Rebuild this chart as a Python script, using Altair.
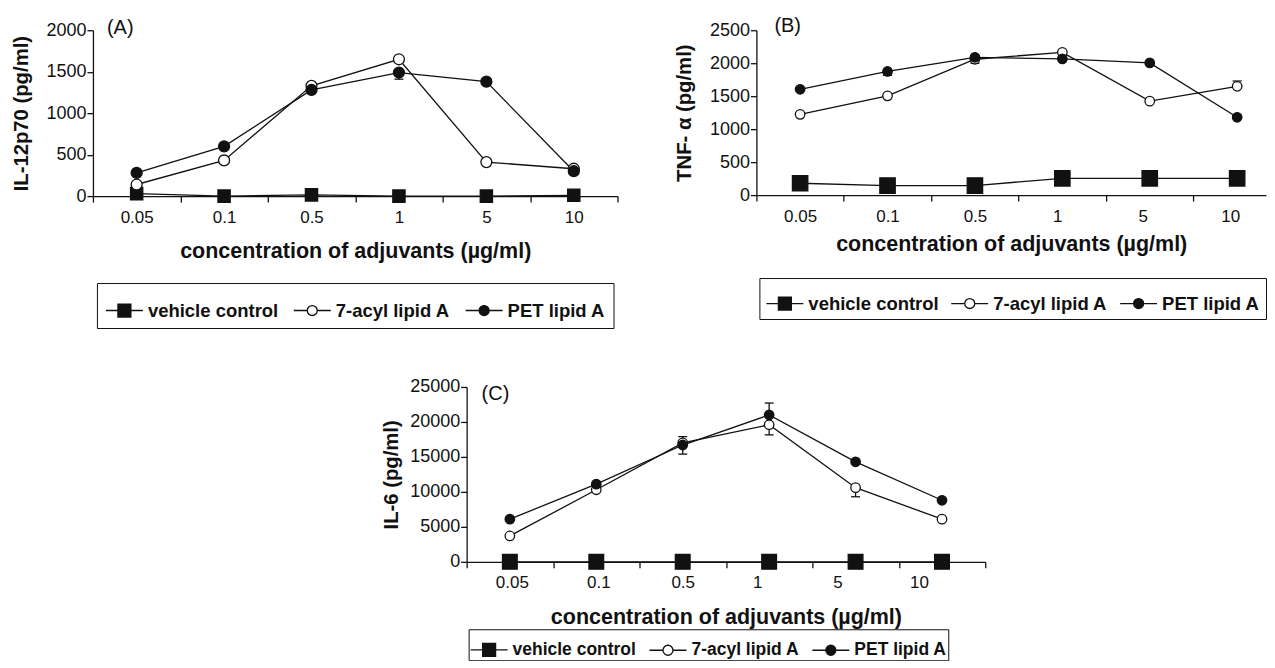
import json
import altair as alt
import pandas as pd

# ---------------- data ----------------
CONC = ["0.05", "0.1", "0.5", "1", "5", "10"]
SERIES = ["vehicle control", "7-acyl lipid A", "PET lipid A"]

# (A) IL-12p70 (pg/ml)
A_VEH = [30, 0, 15, 0, 0, 10]
A_ACYL = [140, 430, 1330, 1650, 410, 330]
A_PET = [280, 600, 1280, 1490, 1380, 300]
A_ERR_ACYL = [0, 0, 0, 0, 0, 0]
A_ERR_PET = [0, 0, 0, -80, 0, 0]

# (B) TNF-alpha (pg/ml)
B_VEH = [180, 145, 145, 255, 255, 255]
B_ACYL = [1225, 1505, 2060, 2165, 1425, 1650]
B_PET = [1605, 1875, 2090, 2065, 2005, 1180]
B_ERR_ACYL = [0, 0, -60, 0, 0, 80]
B_ERR_PET = [0, -60, 0, 0, 0, 0]

# (C) IL-6 (pg/ml)
C_VEH = [0, 0, 0, 0, 0, 0]
C_ACYL = [3700, 10300, 17000, 19600, 10600, 6100]
C_PET = [6100, 11100, 16700, 21000, 14300, 8800]
C_ERR_ACYL = [0, 0, 900, -1450, -1300, 0]
C_ERR_PET = [0, 0, -1300, 1700, 0, 0]

FONT = "Liberation Sans"
INK = "#111111"
LW = 1.3

SQ_PATH = "M-1,0H-0.35M0.35,0H1M-0.35,-0.35H0.35V0.35H-0.35Z"
CI_PATH = ("M-1,0H-0.27M0.27,0H1M0.27,0A0.27,0.27,0,1,1,-0.27,0"
           "A0.27,0.27,0,1,1,0.27,0Z")


def panel(veh, acyl, pet, err_acyl, err_pet, ytitle, ymax, ystep, letter,
          w, h, xmax, leg_x, leg_y, leg_pad, leg_font, leg_col, xt_pad,
          yt_pad, shifts, sq_size, ci_size, let_x, let_y):
    vals = dict(zip(SERIES, (veh, acyl, pet)))
    rows = []
    for s in SERIES:
        for i, v in enumerate(vals[s]):
            rows.append({"series": s, "xi": i, "value": v})
    df = pd.DataFrame(rows)
    erows = []
    for s, e in (("7-acyl lipid A", err_acyl), ("PET lipid A", err_pet)):
        for i, d in enumerate(e):
            if d:
                erows.append({"series": s, "xi": i, "value": vals[s][i],
                              "end": vals[s][i] + d})
    edf = pd.DataFrame(erows)

    bw = w / (xmax + 0.5)
    conds = [{"test": f"round(datum.value + 0.5) == {i}", "value": bw / 2 + sh}
             for i, sh in enumerate(shifts) if sh]
    label_offset = {"condition": conds, "value": bw / 2} if conds else bw / 2
    xaxis = alt.Axis(
        values=[i - 0.5 for i in range(len(CONC) + 1) if i - 0.5 <= xmax],
        labelExpr=f"datum.value > {len(CONC) - 1} ? '' : "
                  f"{json.dumps(CONC)}[round(datum.value + 0.5)]",
        labelOffset=label_offset,
        labelPadding=7,
        labelFontSize=17,
        labelOverlap=False,
        labelFlush=False,
        title="concentration of adjuvants (µg/ml)",
        titleFontSize=21.5,
        titlePadding=xt_pad,
    )
    yaxis = alt.Axis(values=list(range(0, ymax + 1, ystep)), format="d",
                     title=ytitle, titlePadding=yt_pad, labelPadding=1,
                     labelFontSize=18, titleFontSize=20.3)
    xs = alt.Scale(domain=[-0.5, xmax], nice=False, zero=False)
    ys = alt.Scale(domain=[0, ymax], nice=False)

    X = alt.X("xi:Q", scale=xs, axis=xaxis)
    base = alt.Chart(df)

    lines = base.mark_line(color=INK, strokeWidth=LW).encode(
        x=X, y=alt.Y("value:Q", scale=ys, axis=yaxis), detail="series:N")
    ebar = alt.Chart(edf).mark_rule(color=INK, strokeWidth=LW).encode(
        x=X, y=alt.Y("value:Q", scale=ys, axis=yaxis), y2="end:Q")
    ecap = alt.Chart(edf).mark_tick(color=INK, orient="horizontal", size=9,
                                    thickness=LW, opacity=1).encode(
        x=X, y=alt.Y("end:Q", scale=ys, axis=yaxis))

    def pts(series, shape, fill, size):
        return base.transform_filter(alt.datum.series == series).mark_point(
            shape=shape, filled=True, fill=fill, stroke=INK, strokeWidth=LW,
            size=size, opacity=1).encode(
            x=X, y=alt.Y("value:Q", scale=ys, axis=yaxis))

    p_veh = pts("vehicle control", "square", INK, sq_size)
    p_acyl = pts("7-acyl lipid A", "circle", "white", ci_size)
    p_pet = pts("PET lipid A", "circle", INK, ci_size)

    leg = alt.Legend(
        orient="none", legendX=leg_x, legendY=leg_y, direction="horizontal",
        title=None, strokeColor=INK, padding=leg_pad, labelFont=FONT,
        labelFontSize=leg_font, labelFontWeight="bold", labelColor=INK,
        symbolSize=1369, symbolStrokeWidth=LW,
        symbolOpacity=1, columnPadding=leg_col, labelOffset=4, labelLimit=0,
    )
    legend_layer = base.transform_filter("false").mark_point(
        filled=True, strokeWidth=LW, opacity=1).encode(
        color=alt.Color("series:N", scale=alt.Scale(domain=SERIES,
                        range=[INK, "white", INK]), legend=leg),
        stroke=alt.Stroke("series:N", scale=alt.Scale(domain=SERIES,
                          range=[INK, INK, INK]), legend=leg),
        shape=alt.Shape("series:N", scale=alt.Scale(domain=SERIES,
                        range=[SQ_PATH, CI_PATH, CI_PATH]), legend=leg),
    )

    letter_layer = alt.Chart(pd.DataFrame({"t": [letter]})).mark_text(
        align="left", baseline="middle", font=FONT, fontSize=20, color=INK
    ).encode(text="t:N", x=alt.value(let_x), y=alt.value(let_y))

    return alt.layer(lines, ebar, ecap, p_veh, p_acyl, p_pet, letter_layer,
                     legend_layer).properties(width=w, height=h)


def indep(c):
    return c.resolve_scale(color="independent", stroke="independent",
                           shape="independent").resolve_legend(
        color="independent", stroke="independent", shape="independent")


pA = panel(A_VEH, A_ACYL, A_PET, A_ERR_ACYL, A_ERR_PET, "IL-12p70 (pg/ml)",
           2000, 500, "(A)", 525, 166, 5.5, 4, 253, 8, 18.5, 12, 15, 14,
           [0, 0, 0, 0, 0, 0], 150, 120, 14, -2)
pB = panel(B_VEH, B_ACYL, B_PET, B_ERR_ACYL, B_ERR_PET, "TNF- α (pg/ml)",
           2500, 500, "(B)", 510, 165, 5.33, 3, 248, 6, 18.5, 9, 9, 15,
           [0, 0, 0, -5, -7, -7], 237, 90, 18, -4)
pC = panel(C_VEH, C_ACYL, C_PET, C_ERR_ACYL, C_ERR_PET, "IL-6 (pg/ml)",
           25000, 5000, "(C)", 519, 175, 5.5, 2, 242.5, 1, 17.5, 10, 16, 8,
           [2, 2, 0, -12, -18, -23], 216, 90, 15, 7)

spacer = alt.Chart(pd.DataFrame({"a": [0]})).mark_point(opacity=0).properties(
    width=238, height=10)

row1 = indep(alt.hconcat(pA, pB, spacing=139, bounds="flush"))
row2 = indep(alt.hconcat(spacer, pC, spacing=136, bounds="flush"))

chart = indep(alt.vconcat(row1, row2, spacing=357, bounds="flush")).properties(
    padding={"left": 3, "top": 8, "right": 0, "bottom": 0}
).configure_view(stroke=None).configure_axis(
    grid=False, domainColor=INK, tickColor=INK, domainWidth=LW, tickWidth=LW,
    tickSize=6, labelFont=FONT, labelColor=INK,
    titleFont=FONT, titleFontWeight="bold", titleColor=INK,
)

chart.save("out.html", embed_options={"renderer": "svg", "actions": False})
